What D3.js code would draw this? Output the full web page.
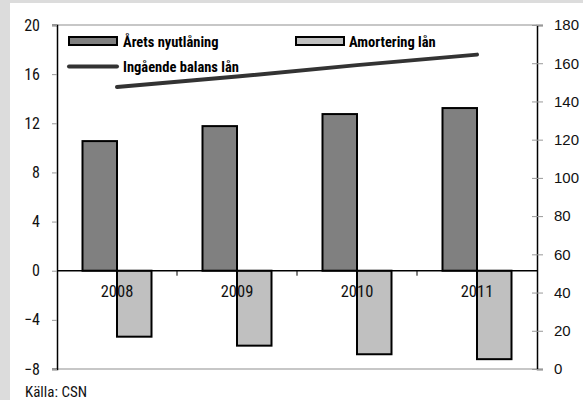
<!DOCTYPE html>
<html>
<head>
<meta charset="utf-8">
<script src="https://cdn.jsdelivr.net/npm/d3@7"></script>
<style>
  body { margin: 0; background: #dcdcdc; }
  svg { display: block; }
  .cond { font-family: "Liberation Sans Narrow", "Roboto Condensed", "DejaVu Sans Condensed", sans-serif; font-stretch: condensed; }
</style>
</head>
<body>
<script>
const years = ['2008', '2009', '2010', '2011'];
const nyutlaning = [10.55, 11.77, 12.75, 13.24];
const amortering = [-5.37, -6.1, -6.8, -7.2];
const balans = [147.5, 153, 159, 164.5];
const leftTicks = [-8, -4, 0, 4, 8, 12, 16, 20];
const rightTicks = [0, 20, 40, 60, 80, 100, 120, 140, 160, 180];

const W = 583, H = 400;
const PLOT_LEFT = 57, PLOT_RIGHT = 537, PLOT_TOP = 25, PLOT_BOTTOM = 369;
const BAR_W = 34.5;

let svg = d3.select('body').append('svg')
    .attr('width', W)
    .attr('height', H);

// white panel
svg.append('rect')
    .attr('x', 10).attr('y', 3)
    .attr('width', W - 10).attr('height', H - 3)
    .attr('fill', '#fff');

let x = d3.scaleBand()
    .domain(years)
    .range([PLOT_LEFT, PLOT_RIGHT]);

let yLeft = d3.scaleLinear()
    .domain([-8, 20])
    .range([PLOT_BOTTOM, PLOT_TOP]);

let yRight = d3.scaleLinear()
    .domain([0, 180])
    .range([PLOT_BOTTOM, PLOT_TOP]);

// top and bottom frame lines
svg.selectAll('.frame')
    .data([20, -8])
    .enter().append('line')
    .attr('x1', PLOT_LEFT - 5).attr('x2', PLOT_RIGHT)
    .attr('y1', function(d) { return yLeft(d); })
    .attr('y2', function(d) { return yLeft(d); })
    .attr('stroke', '#b4b4b4')
    .attr('stroke-width', 1.5);

// left axis
let leftAxis = svg.append('g')
    .attr('transform', 'translate(' + PLOT_LEFT + ',0)')
    .call(d3.axisLeft(yLeft).tickValues(leftTicks).tickSize(5).tickPadding(12));
leftAxis.select('.domain').attr('stroke', '#000').attr('stroke-width', 1.5);
leftAxis.selectAll('.tick line').attr('stroke', '#999');
leftAxis.selectAll('.tick text')
    .attr('class', 'cond')
    .attr('font-size', 16)
    .attr('fill', '#111');

// right axis
let rightAxis = svg.append('g')
    .attr('transform', 'translate(' + PLOT_RIGHT + ',0)')
    .call(d3.axisRight(yRight).tickValues(rightTicks).tickSize(6).tickPadding(11));
rightAxis.select('.domain').attr('stroke', '#000').attr('stroke-width', 1.5);
rightAxis.selectAll('.tick line').attr('stroke', '#999').attr('x1', -5);
rightAxis.selectAll('.tick text')
    .attr('font-family', 'Liberation Sans, Arial, sans-serif')
    .attr('font-size', 15)
    .attr('fill', '#111');

// bars
svg.selectAll('.bar-ny')
    .data(years)
    .enter().append('rect')
    .attr('x', function(d) { return x(d) + x.bandwidth() / 2 - BAR_W; })
    .attr('y', function(d, i) { return yLeft(nyutlaning[i]); })
    .attr('width', BAR_W)
    .attr('height', function(d, i) { return yLeft(0) - yLeft(nyutlaning[i]); })
    .attr('fill', '#808080')
    .attr('stroke', '#000')
    .attr('stroke-width', 2);

svg.selectAll('.bar-am')
    .data(years)
    .enter().append('rect')
    .attr('x', function(d) { return x(d) + x.bandwidth() / 2; })
    .attr('y', yLeft(0))
    .attr('width', BAR_W)
    .attr('height', function(d, i) { return yLeft(amortering[i]) - yLeft(0); })
    .attr('fill', '#c0c0c0')
    .attr('stroke', '#000')
    .attr('stroke-width', 2);

// zero line with category ticks
let zeroAxis = svg.append('g')
    .attr('transform', 'translate(0,' + yLeft(0) + ')');
zeroAxis.append('line')
    .attr('x1', PLOT_LEFT).attr('x2', PLOT_RIGHT)
    .attr('stroke', '#000').attr('stroke-width', 1.5);
zeroAxis.selectAll('.cat-tick')
    .data(years.slice(1))
    .enter().append('line')
    .attr('x1', function(d) { return x(d); })
    .attr('x2', function(d) { return x(d); })
    .attr('y1', 0).attr('y2', 5)
    .attr('stroke', '#000');
zeroAxis.selectAll('.cat-label')
    .data(years)
    .enter().append('text')
    .attr('class', 'cond')
    .attr('x', function(d) { return x(d) + x.bandwidth() / 2; })
    .attr('y', 26)
    .attr('text-anchor', 'middle')
    .attr('font-size', 16.5)
    .attr('fill', '#111')
    .text(function(d) { return d; });

// balance line
let balansLine = d3.line()
    .x(function(d, i) { return x(years[i]) + x.bandwidth() / 2; })
    .y(function(d) { return yRight(d); });

svg.append('path')
    .attr('d', balansLine(balans))
    .attr('fill', 'none')
    .attr('stroke', '#333')
    .attr('stroke-width', 4)
    .attr('stroke-linecap', 'round');

// legend
let legend = svg.append('g');
legend.append('rect')
    .attr('x', 69).attr('y', 37).attr('width', 48).attr('height', 8)
    .attr('fill', '#808080').attr('stroke', '#000').attr('stroke-width', 2);
legend.append('text')
    .attr('class', 'cond')
    .attr('x', 123).attr('y', 46.5)
    .attr('font-size', 14.5).attr('font-weight', 'bold')
    .text('Årets nyutlåning');
legend.append('rect')
    .attr('x', 296).attr('y', 37).attr('width', 48).attr('height', 8)
    .attr('fill', '#c0c0c0').attr('stroke', '#000').attr('stroke-width', 2);
legend.append('text')
    .attr('class', 'cond')
    .attr('x', 349).attr('y', 46.5)
    .attr('font-size', 14.5).attr('font-weight', 'bold')
    .text('Amortering lån');
legend.append('line')
    .attr('x1', 69).attr('x2', 117).attr('y1', 66.5).attr('y2', 66.5)
    .attr('stroke', '#333').attr('stroke-width', 4).attr('stroke-linecap', 'round');
legend.append('text')
    .attr('class', 'cond')
    .attr('x', 123).attr('y', 71.5)
    .attr('font-size', 14.5).attr('font-weight', 'bold')
    .text('Ingående balans lån');

// source
svg.append('text')
    .attr('class', 'cond')
    .attr('x', 25).attr('y', 397)
    .attr('font-size', 15)
    .attr('fill', '#111')
    .text('Källa: CSN');
</script>
</body>
</html>
